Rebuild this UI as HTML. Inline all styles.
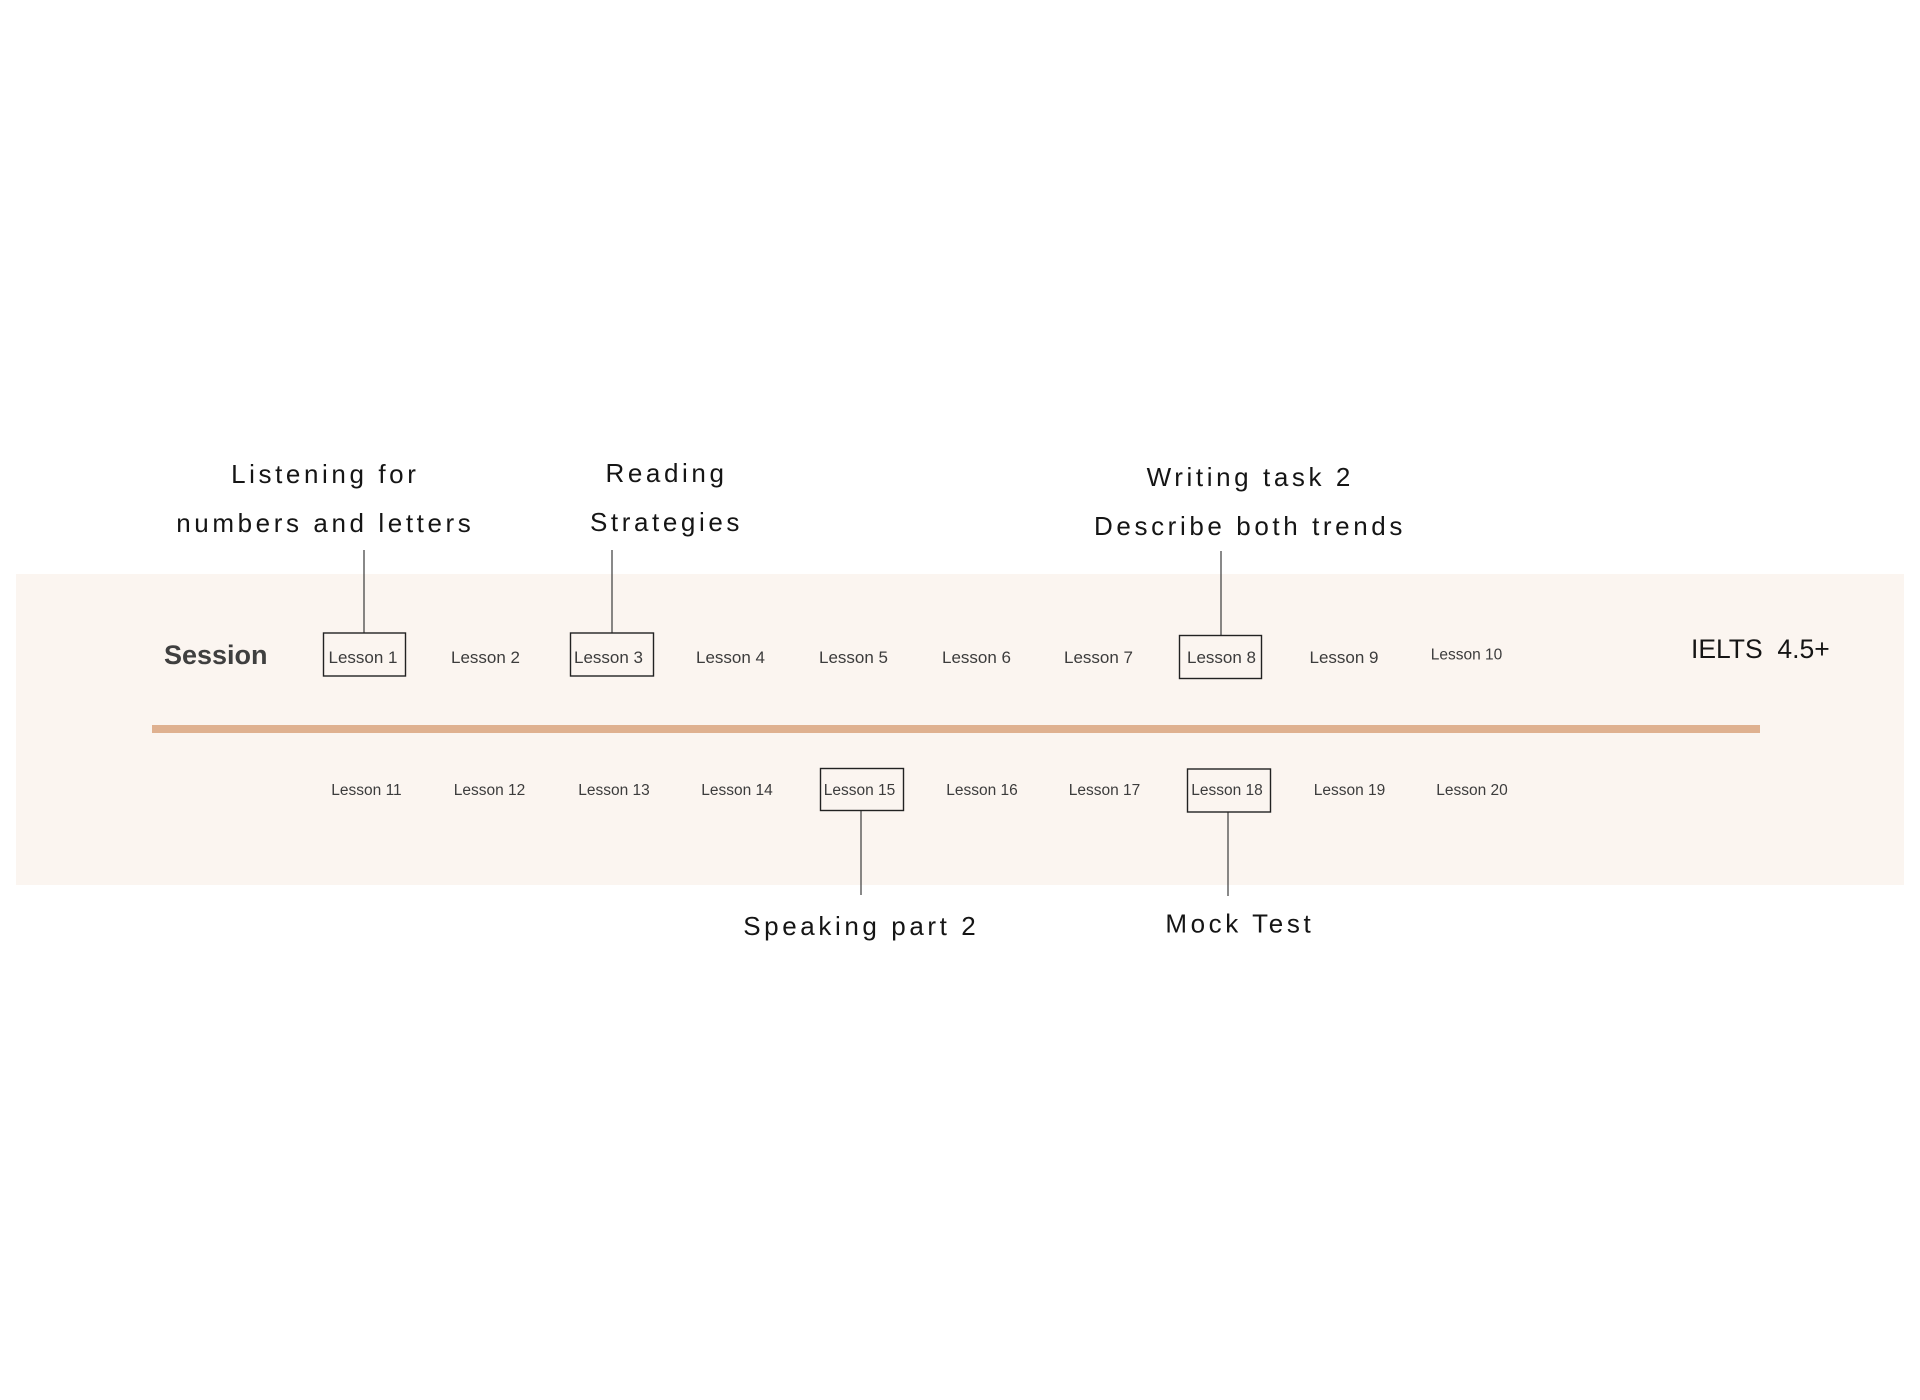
<!DOCTYPE html>
<html>
<head>
<meta charset="utf-8">
<style>
  html, body { margin: 0; padding: 0; background: #ffffff; }
  body { width: 1920px; height: 1400px; overflow: hidden; }
  svg { display: block; }
  .ann { font-family: "Liberation Sans", sans-serif; font-size: 26px; letter-spacing: 3.6px; fill: #151515; }
  .les { font-family: "Liberation Sans", sans-serif; font-size: 17px; fill: #3c3c3c; }
  .les2 { font-family: "Liberation Sans", sans-serif; font-size: 15.5px; fill: #3c3c3c; }
</style>
</head>
<body>
<svg width="1920" height="1400" viewBox="0 0 1920 1400" xmlns="http://www.w3.org/2000/svg">
  <rect x="0" y="0" width="1920" height="1400" fill="#ffffff"/>
  <!-- band -->
  <rect x="16" y="574" width="1888" height="311" fill="#FBF5F0"/>
  <!-- orange timeline -->
  <rect x="152" y="725" width="1608" height="8" fill="#DFB190"/>

  <!-- Session -->
  <text x="164" y="664" font-family="Liberation Sans, sans-serif" font-size="27" font-weight="bold" fill="#3f3f3f">Session</text>

  <!-- IELTS -->
  <text x="1691" y="658" font-family="Liberation Sans, sans-serif" font-size="26.5" fill="#151515" xml:space="preserve">IELTS  4.5+</text>

  <!-- connectors -->
  <g stroke="#3a3a3a" stroke-width="1.2" fill="none">
    <line x1="364" y1="550" x2="364" y2="633"/>
    <line x1="612" y1="550" x2="612" y2="633"/>
    <line x1="1221" y1="551" x2="1221" y2="635"/>
    <line x1="861" y1="810" x2="861" y2="895"/>
    <line x1="1228" y1="812" x2="1228" y2="896"/>
  </g>

  <!-- boxes -->
  <g stroke="#222222" stroke-width="1.4" fill="none">
    <rect x="323.5" y="633" width="82" height="43"/>
    <rect x="570.5" y="633" width="83" height="43"/>
    <rect x="1179.5" y="635.5" width="82" height="43"/>
    <rect x="820.5" y="768.5" width="83" height="42"/>
    <rect x="1187.5" y="769" width="83" height="43"/>
  </g>

  <!-- row 1 lessons -->
  <g class="les" text-anchor="middle">
    <text x="363" y="663">Lesson 1</text>
    <text x="485.5" y="663">Lesson 2</text>
    <text x="608.5" y="663">Lesson 3</text>
    <text x="730.5" y="663">Lesson 4</text>
    <text x="853.5" y="663">Lesson 5</text>
    <text x="976.5" y="663">Lesson 6</text>
    <text x="1098.5" y="663">Lesson 7</text>
    <text x="1221.5" y="663">Lesson 8</text>
    <text x="1344" y="663">Lesson 9</text>
  </g>
  <text class="les2" x="1466.5" y="659.5" text-anchor="middle">Lesson 10</text>

  <!-- row 2 lessons -->
  <g class="les2" text-anchor="middle">
    <text x="366.5" y="795">Lesson 11</text>
    <text x="489.5" y="795">Lesson 12</text>
    <text x="614" y="795">Lesson 13</text>
    <text x="737" y="795">Lesson 14</text>
    <text x="859.5" y="795">Lesson 15</text>
    <text x="982" y="795">Lesson 16</text>
    <text x="1104.5" y="795">Lesson 17</text>
    <text x="1227" y="795">Lesson 18</text>
    <text x="1349.5" y="795">Lesson 19</text>
    <text x="1472" y="795">Lesson 20</text>
  </g>

  <!-- annotations -->
  <g class="ann" text-anchor="middle">
    <text x="325.3" y="483">Listening for</text>
    <text x="325.3" y="532">numbers and letters</text>
    <text x="666.5" y="482">Reading</text>
    <text x="666.5" y="531">Strategies</text>
    <text x="1250.3" y="486">Writing task 2</text>
    <text x="1250" y="535">Describe both trends</text>
    <text x="861.3" y="935">Speaking part 2</text>
    <text x="1239.8" y="932.5">Mock Test</text>
  </g>
</svg>
</body>
</html>
